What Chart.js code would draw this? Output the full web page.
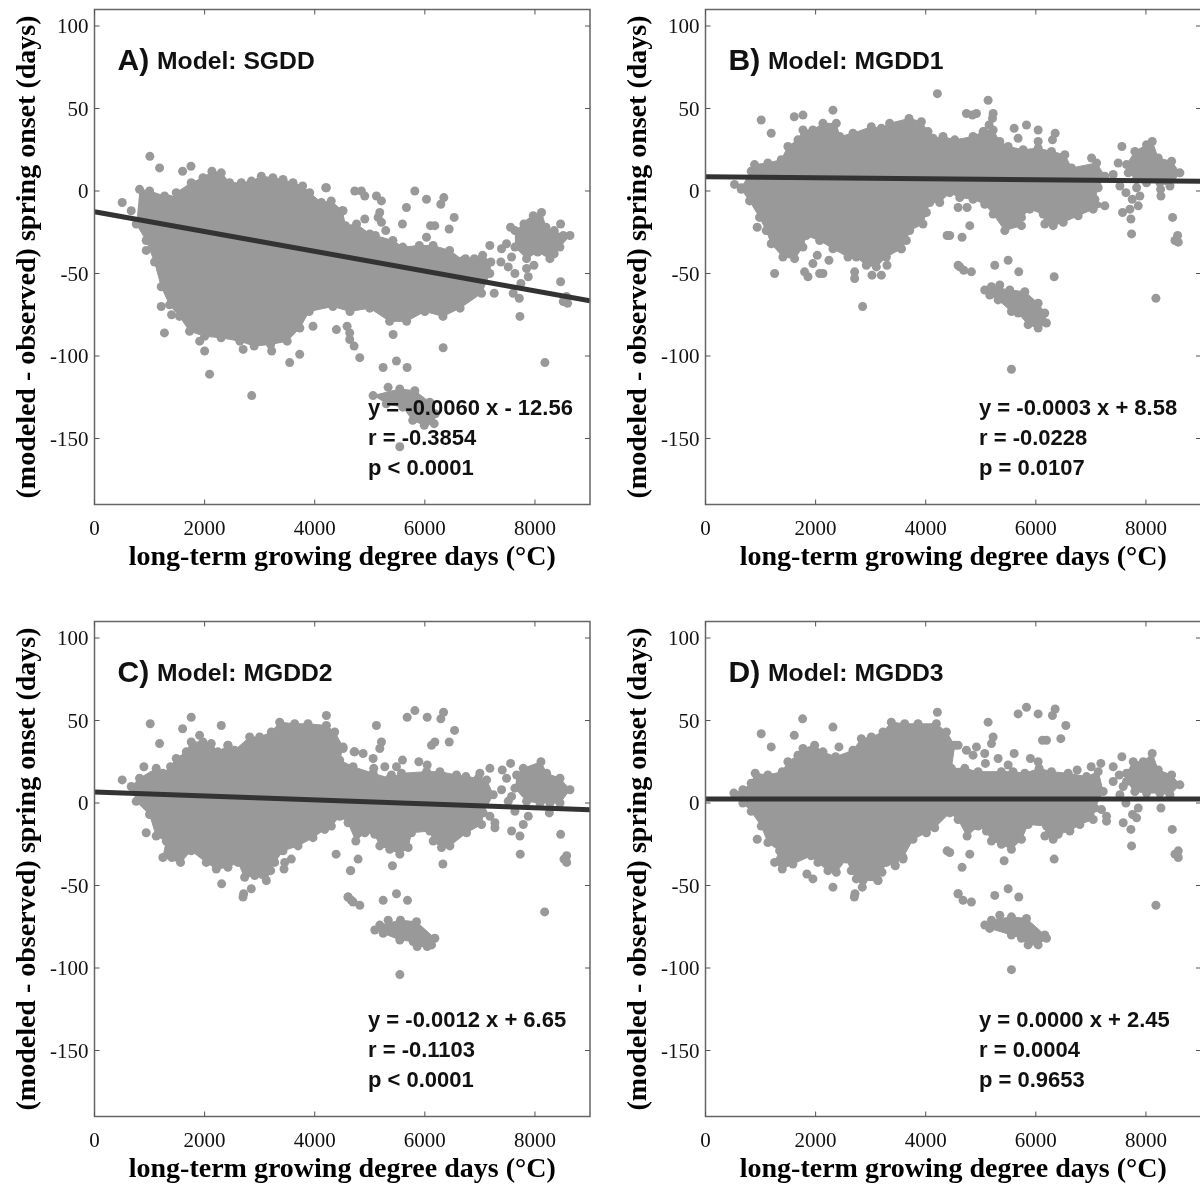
<!DOCTYPE html>
<html><head><meta charset="utf-8">
<style>
html,body{margin:0;padding:0;background:#fff}
#page{position:relative;width:1200px;height:1186px;overflow:hidden;background:#fff}
canvas{position:absolute;display:block}
</style>
<script src="https://cdn.jsdelivr.net/npm/chart.js@4/dist/chart.umd.min.js"></script>
</head><body><div id="page"></div>
<script>
const xTicks=[0,2000,4000,6000,8000];
const yTicks=[100,50,0,-50,-100,-150];
const xTitle="long-term growing degree days (°C)";
const yTitle="(modeled - observed) spring onset (days)";

// Panel A
const aFit=[[0,-12.56],[9000,-66.56]];
const aCloud=[[818,1],[1000,0],[1273,-3],[1364,-5],[1485,-1],[1757,5],[1970,8],[2133,12],[2303,11],[2455,5],[2667,5],[2850,6],[3030,9],[3240,8],[3424,7],[3606,5],[3780,3],[3909,-1],[4121,-7],[4300,-6],[4500,-12],[4560,-21],[4760,-20],[5000,-26],[5100,-27],[5420,-30],[5600,-34],[5900,-33],[6150,-33],[6450,-36],[6700,-42],[6900,-41],[7050,-39],[7200,-43],[7180,-50],[7030,-62],[6640,-71],[6330,-76],[6000,-73],[5670,-79],[5360,-79],[5000,-71],[4640,-73],[4330,-70],[3900,-73],[3730,-83],[3500,-91],[3200,-93],[2900,-94],[2640,-91],[2300,-89],[2000,-88],[1727,-85],[1545,-76],[1364,-69],[1212,-58],[1091,-43],[939,-30],[758,-20]];
const aBlobRight=[[7636,-24],[7800,-20],[7908,-19],[7969,-15],[8120,-13],[8200,-22],[8350,-24],[8515,-27],[8636,-27],[8454,-34],[8350,-38],[8272,-41],[8050,-37],[7848,-41],[7636,-34]];
const aBlobLow=[[5060,-124],[5545,-120],[5818,-121],[6090,-128],[6190,-135],[6170,-141],[5990,-142],[5780,-139],[5600,-131],[5300,-129]];
const aSingles=[[503,-7],[667,-12],[1006,21],[1182,14],[1600,12],[1752,15],[939,-36],[4200,2],[4212,2],[4727,0],[4848,0],[4909,-3],[5121,-3],[5212,-6],[5666,-10],[5818,0],[6030,-5],[6345,-4],[6290,-8],[6533,-16],[5181,-13],[5151,-16],[5212,-19],[5290,-24],[5593,-20],[6103,-21],[6181,-21],[6442,-23],[6030,-28],[4909,-17],[4515,-12],[7181,-33],[6739,-41],[7557,-22],[7393,-35],[7484,-32],[7575,-40],[7381,-43],[7515,-46],[7636,-50],[7981,-45],[7848,-47],[7878,-52],[7745,-56],[7605,-62],[7715,-65],[7260,-62],[7727,-76],[8466,-55],[8575,-64],[8515,-67],[8593,-68],[8181,-104],[8466,-20],[3969,-82],[4394,-84],[4588,-82],[4636,-86],[4636,-90],[4715,-94],[4818,-101],[5424,-87],[6333,-95],[5484,-103],[5242,-107],[5678,-107],[5333,-119],[5545,-155],[1270,-86],[2090,-111],[2855,-124],[1910,-91],[2000,-97],[3218,-97],[3545,-104],[3727,-99],[1212,-70],[1400,-75],[2700,-96]];

// Panel B
const bFit=[[0,8.58],[9000,5.88]];
const bCloud=[[527,4],[650,2],[830,12],[891,16],[1133,17],[1376,19],[1497,27],[1679,31],[1770,37],[1951,37],[2133,41],[2376,41],[2436,33],[2679,35],[3012,39],[3194,38],[3345,41],[3697,44],[3921,42],[4042,36],[4133,32],[4315,33],[4527,31],[4860,33],[5042,36],[5224,37],[5345,30],[5497,27],[5769,25],[6042,26],[6284,24],[6527,22],[6648,14],[7103,17],[7254,9],[7133,2],[7072,-5],[7254,-9],[7042,-11],[6769,-15],[6497,-19],[6315,-21],[6163,-20],[6133,-14],[5890,-11],[5739,-16],[5739,-21],[5436,-24],[5224,-14],[5072,-8],[4860,-5],[4618,-4],[4436,-1],[4254,-7],[4073,-7],[4012,-13],[3951,-20],[3709,-24],[3648,-30],[3557,-35],[3285,-40],[3103,-46],[2921,-45],[2739,-40],[2588,-40],[2315,-35],[2073,-30],[1830,-27],[1770,-34],[1618,-41],[1406,-40],[1194,-32],[1103,-24],[982,-16],[800,-6],[650,1]];
const bBlobRight=[[7648,16],[7799,24],[8011,28],[8114,30],[8224,20],[8466,18],[8617,11],[8436,3],[8254,5],[8011,5],[7830,7],[7678,11]];
const bBlobLow=[[5072,-60],[5194,-58],[5527,-60],[5800,-61],[6042,-68],[6163,-74],[6193,-80],[6042,-83],[5860,-81],[5678,-74],[5557,-73],[5315,-66],[5163,-63]];
const bSingles=[[5133,55],[4739,47],[4848,46],[4921,47],[5224,47],[5212,44],[5151,40],[5060,36],[5606,38],[5830,40],[6042,37],[5678,32],[6042,30],[6302,31],[6351,35],[7012,20],[7563,27],[7496,17],[7405,10],[7527,3],[7636,-1],[7890,-3],[7830,2],[7751,-5],[7860,-9],[7708,-11],[7575,-13],[7727,-17],[7739,-26],[8272,-3],[8266,1],[8484,-16],[8575,-27],[8527,-30],[8587,-31],[8181,-65],[5557,-108],[6333,-52],[5497,-42],[5254,-45],[5690,-49],[5345,-57],[4588,-45],[4618,-46],[4690,-48],[4830,-49],[4800,-21],[4660,-28],[4436,-27],[4588,-10],[4751,-10],[4212,59],[2315,49],[1770,46],[1612,45],[1012,43],[1194,35],[939,-22],[1121,-24],[1255,-50],[1800,-49],[1861,-52],[2073,-50],[2133,-50],[1951,-44],[2030,-39],[2242,-42],[2709,-49],[2709,-53],[3024,-51],[3194,-51],[3297,-45],[2854,-70],[3557,-35],[4388,-27]];

// Panel C
const cFit=[[0,6.65],[9000,-4.15]];
const cCloud=[[667,10],[818,15],[1121,21],[1242,18],[1382,22],[1485,27],[1667,31],[1757,37],[1970,37],[2121,36],[2242,31],[2424,35],[2545,32],[2818,40],[3000,40],[3212,43],[3363,49],[3636,48],[3878,48],[4212,47],[4363,43],[4515,34],[4454,26],[4697,22],[5061,18],[5364,15],[5576,18],[6031,19],[6273,19],[6576,17],[6970,15],[7122,14],[7243,5],[7061,-6],[7030,-13],[6758,-18],[6455,-26],[6303,-27],[6152,-23],[6091,-17],[5758,-18],[5697,-27],[5546,-31],[5364,-28],[5182,-26],[5091,-19],[4910,-18],[4746,-23],[4606,-12],[4455,-8],[4303,-14],[4181,-16],[3969,-21],[3697,-26],[3424,-29],[3272,-36],[3121,-47],[2909,-44],[2727,-45],[2606,-36],[2424,-39],[2212,-40],[2030,-36],[1757,-29],[1563,-36],[1242,-33],[1303,-23],[1121,-20],[1000,-7],[758,1]];
const cBlobRight=[[7667,17],[7788,21],[8109,25],[8212,18],[8455,15],[8636,8],[8455,0],[8273,0],[8091,0],[7849,1],[7636,9]];
const cBlobLow=[[5091,-77],[5182,-74],[5558,-71],[5849,-72],[6182,-82],[6122,-86],[6043,-87],[5861,-87],[5788,-84],[5546,-83],[5243,-79]];
const cSingles=[[503,14],[897,22],[1012,48],[1600,45],[1757,52],[2303,47],[1182,36],[1909,41],[2424,35],[4212,53],[4715,31],[939,-18],[1406,-33],[2309,-49],[2363,-35],[2709,-55],[2697,-57],[2848,-52],[3200,-41],[3442,-40],[3454,-36],[3575,-34],[4388,-31],[4654,-41],[4606,-57],[4666,-59],[5121,47],[5212,37],[5182,33],[4728,31],[4879,30],[5061,27],[4516,33],[5594,26],[5485,22],[5891,25],[6043,23],[5073,21],[5273,22],[5394,17],[5819,56],[5679,52],[6043,52],[6291,51],[6340,55],[6540,44],[6182,37],[6122,35],[6443,37],[6746,16],[7000,18],[7182,21],[7406,20],[7558,24],[7485,15],[7394,8],[7576,4],[7515,1],[7636,-5],[7182,-8],[7273,-12],[7273,-15],[7576,-17],[7788,-13],[7727,-20],[7879,-8],[8261,-6],[7733,-31],[8467,-19],[8576,-32],[8527,-34],[8576,-36],[8176,-66],[5546,-104],[4788,-34],[4649,-41],[5412,-38],[6328,-37],[4606,-57],[4697,-60],[4819,-62],[5243,-59],[5485,-55],[5685,-59],[5334,-71]];

// Panel D
const dFit=[[0,2.45],[9000,2.45]];
const dCloud=[[515,6],[679,8],[830,12],[903,18],[1133,17],[1394,19],[1497,25],[1679,29],[1770,33],[1982,35],[2133,31],[2364,28],[2679,32],[2830,39],[3012,40],[3224,43],[3375,49],[3618,48],[3860,48],[4194,48],[4376,43],[4527,35],[4466,21],[4709,21],[4951,19],[5375,19],[5587,19],[5800,18],[6060,21],[6284,19],[6587,18],[6921,16],[7133,19],[7224,7],[7072,-3],[7042,-10],[6800,-13],[6618,-17],[6406,-19],[6315,-22],[6163,-20],[6194,-14],[5860,-13],[5739,-22],[5557,-28],[5375,-25],[5194,-23],[5103,-17],[4951,-14],[4751,-20],[4588,-10],[4436,-6],[4163,-15],[4012,-18],[3769,-22],[3588,-33],[3436,-37],[3285,-36],[3133,-47],[2860,-47],[2739,-46],[2648,-41],[2558,-34],[2376,-42],[2224,-41],[2042,-36],[1921,-32],[1588,-37],[1394,-40],[1255,-36],[1346,-29],[1133,-24],[1012,-14],[830,-5],[679,0]];
const dBlobRight=[[7648,18],[7769,25],[7951,25],[8114,30],[8224,20],[8466,17],[8617,11],[8436,5],[8254,6],[8011,6],[7799,7],[7648,13]];
const dBlobLow=[[5072,-74],[5194,-71],[5557,-69],[5830,-70],[6163,-80],[6193,-82],[6042,-86],[5860,-86],[5739,-82],[5557,-80],[5163,-76]];
const dSingles=[[1764,51],[2315,46],[1612,41],[1012,42],[1194,34],[2424,34],[4212,55],[4588,35],[939,-22],[4388,-29],[3588,-34],[3448,-38],[3206,-42],[3133,-47],[1842,-43],[1951,-46],[2315,-51],[2848,-51],[2715,-55],[2703,-57],[4588,-55],[5133,49],[5224,40],[5194,36],[4921,34],[4739,32],[4860,29],[5072,30],[5084,24],[5315,27],[5606,30],[5497,23],[5902,27],[6042,25],[5830,58],[5678,54],[6042,54],[6302,53],[6351,57],[6545,47],[6454,39],[6193,38],[6121,38],[6751,20],[7005,22],[7181,24],[7405,22],[7563,28],[7405,13],[7515,17],[7587,10],[7527,5],[7636,0],[7193,-4],[7284,-8],[7284,-11],[7587,-12],[7757,-7],[7830,-9],[7727,-16],[8272,-3],[7860,-3],[7739,-26],[8478,-16],[8587,-29],[8527,-31],[8587,-33],[8181,-62],[5557,-101],[4800,-31],[4660,-39],[5424,-35],[6333,-34],[4436,-30],[4588,-55],[4678,-59],[4830,-60],[5254,-56],[5497,-52],[5690,-57],[5345,-68]];

const panelLabels=["A)","B)","C)","D)"];
const modelLabels=["Model: SGDD","Model: MGDD1","Model: MGDD2","Model: MGDD3"];
const statsA=["y = -0.0060 x - 12.56","r = -0.3854","p < 0.0001"];
const statsB=["y = -0.0003 x + 8.58","r = -0.0228","p = 0.0107"];
const statsC=["y = -0.0012 x + 6.65","r = -0.1103","p < 0.0001"];
const statsD=["y = 0.0000 x + 2.45","r = 0.0004","p = 0.9653"];

const GREY='#999999', DARK='#333333', SERIF='"Liberation Serif"', SANS='"Liberation Sans"';
const toPts=a=>a.map(p=>({x:p[0],y:p[1]}));
const page=document.getElementById('page');
const noPad=s=>{s.paddingTop=0;s.paddingBottom=0;s.paddingLeft=0;s.paddingRight=0;};

const framePlugin={id:'frame',afterDraw(chart,args,o){
  const c=chart.ctx,a=chart.chartArea,X=chart.scales.x,Y=chart.scales.y;
  c.save();
  c.strokeStyle='#666';c.lineWidth=1.5;
  c.strokeRect(a.left,a.top,a.width,a.height);
  c.strokeStyle='#555';c.lineWidth=1;
  xTicks.forEach(v=>{const p=X.getPixelForValue(v);
    c.beginPath();c.moveTo(p,a.bottom);c.lineTo(p,a.bottom-5);c.moveTo(p,a.top);c.lineTo(p,a.top+5);c.stroke();});
  yTicks.forEach(v=>{const p=Y.getPixelForValue(v);
    c.beginPath();c.moveTo(a.left,p);c.lineTo(a.left+5,p);c.moveTo(a.right,p);c.lineTo(a.right-5,p);c.stroke();});
  c.fillStyle='#111';c.textBaseline='alphabetic';c.textAlign='left';
  c.font='bold 30px '+SANS;c.fillText(o.panel,23+a.left,a.top+60);
  c.font='bold 24.7px '+SANS;c.fillText(o.model,62.5+a.left,a.top+59);
  c.font='bold 22px '+SANS;
  o.stats.forEach((s,i)=>c.fillText(s,a.left+273.5,a.top+405+i*30.3));
  c.restore();
}};

function panel(left,top,fit,cloud,right,low,singles,i,stats){
  const cv=document.createElement('canvas');
  cv.width=611;cv.height=612;cv.style.left=left+'px';cv.style.top=top+'px';
  page.appendChild(cv);
  const blob=(d)=>({data:toPts(d),showLine:true,tension:0,fill:'shape',backgroundColor:GREY,borderColor:GREY,borderWidth:1,
    pointRadius:4.5,pointBackgroundColor:GREY,pointBorderWidth:0,pointBorderColor:GREY});
  new Chart(cv,{type:'scatter',
    data:{datasets:[
      {label:'fit',data:toPts(fit),showLine:true,borderColor:DARK,borderWidth:5,pointRadius:0,tension:0,fill:false,order:0},
      {label:'sites',data:toPts(singles),pointRadius:4.5,pointBackgroundColor:GREY,pointBorderWidth:0,showLine:false,order:1},
      Object.assign(blob(cloud),{label:'cloud',order:2}),
      Object.assign(blob(right),{label:'east',order:2}),
      Object.assign(blob(low),{label:'low',order:2})
    ]},
    options:{responsive:false,animation:false,devicePixelRatio:1,events:[],
      layout:{padding:{left:0,top:9.5,right:21,bottom:0}},
      plugins:{legend:{display:false},tooltip:{enabled:false},frame:{panel:panelLabels[i],model:modelLabels[i],stats:stats}},
      scales:{
        x:{type:'linear',min:0,max:9000,
          afterBuildTicks:s=>{s.ticks=xTicks.map(v=>({value:v}));},
          afterFit:s=>{s.height=107.5;noPad(s);},
          grid:{display:false,drawTicks:false},border:{display:false},
          ticks:{maxRotation:0,autoSkip:false,padding:12,color:'#111',font:{family:SERIF,size:21},callback:v=>String(v)},
          title:{display:true,text:xTitle,color:'#000',font:{family:SERIF,size:28,weight:'bold'},padding:{top:0,bottom:37}}},
        y:{type:'linear',min:-190,max:110,
          afterBuildTicks:s=>{s.ticks=yTicks.map(v=>({value:v}));},
          afterFit:s=>{s.width=94.5;noPad(s);},
          grid:{display:false,drawTicks:false},border:{display:false},
          ticks:{autoSkip:false,padding:6,labelOffset:1.5,color:'#111',font:{family:SERIF,size:21},callback:v=>String(v)},
          title:{display:true,text:yTitle,color:'#000',font:{family:SERIF,size:28,weight:'bold'},padding:{top:11,bottom:0}}}
      }},
    plugins:[framePlugin]});
}
panel(0,0,aFit,aCloud,aBlobRight,aBlobLow,aSingles,0,statsA);
panel(611,0,bFit,bCloud,bBlobRight,bBlobLow,bSingles,1,statsB);
panel(0,612,cFit,cCloud,cBlobRight,cBlobLow,cSingles,2,statsC);
panel(611,612,dFit,dCloud,dBlobRight,dBlobLow,dSingles,3,statsD);
</script></body></html>
